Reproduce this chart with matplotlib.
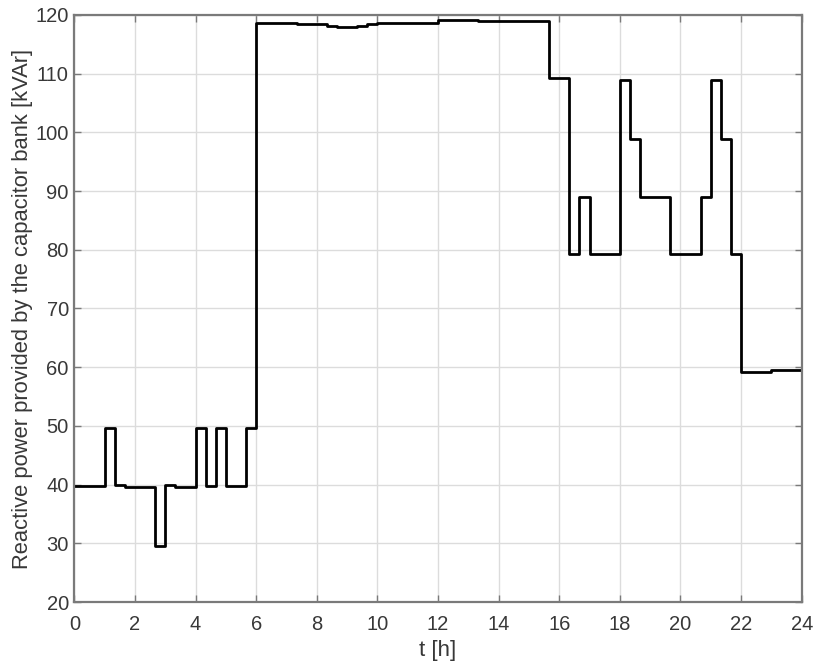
import matplotlib
matplotlib.use("Agg")
import matplotlib.pyplot as plt
import numpy as np

# Switching instants of the capacitor bank (minutes after midnight)
switch_minutes = [0, 60, 80, 100, 160, 180, 200, 240, 260, 280, 300, 340,
                  360, 400, 440, 480, 500, 520, 560, 580, 600, 720, 800, 840,
                  880, 940, 980, 1000, 1020, 1080, 1100, 1120, 1180, 1240,
                  1260, 1280, 1300, 1320, 1380]
# Reactive power held from each switching instant [kVAr]
q_kvar = [39.8, 49.6, 39.9, 39.6, 29.6, 39.9, 39.6, 49.6, 39.8, 49.6, 39.8, 49.6,
          118.7, 118.6, 118.4, 118.5, 118.2, 117.9, 118.2, 118.4, 118.7, 119.1,
          118.9, 119.0, 118.9, 109.2, 79.3, 89.0, 79.2, 109.0, 98.9, 89.0,
          79.2, 89.0, 109.0, 98.8, 79.2, 59.2, 59.5]

x_ticks = list(range(0, 25, 2))
y_ticks = list(range(20, 121, 10))

t_h = np.array(switch_minutes + [1440]) / 60.0
q = np.array(q_kvar + [q_kvar[-1]])

plt.rcParams['font.family'] = ['Liberation Sans', 'DejaVu Sans']
fig = plt.figure(figsize=(8.15, 6.63), dpi=100)
ax = fig.add_axes([0.0912, 0.092, 0.8925, 0.8854])

ax.plot(t_h, q, drawstyle='steps-post', color='black', linewidth=2.0)

ax.set_xlim(0, 24)
ax.set_ylim(20, 120)
ax.set_xticks(x_ticks)
ax.set_yticks(y_ticks)
ax.grid(True, color='#dcdcdc', linewidth=1.0)
ax.set_axisbelow(True)

for s in ax.spines.values():
    s.set_color('#7a7a7a')
    s.set_linewidth(1.6)
ax.tick_params(direction='in', length=5, width=1.0, colors='#7a7a7a',
               labelcolor='#383838', labelsize=14.5,
               top=True, right=True)
ax.tick_params(axis='x', pad=9)
ax.tick_params(axis='y', pad=4)

ax.set_xlabel('t [h]', fontsize=16, color='#383838', labelpad=5)
ax.set_ylabel('Reactive power provided by the capacitor bank [kVAr]',
              fontsize=15.8, color='#383838', labelpad=2)

fig.savefig('out.png', dpi=100)
